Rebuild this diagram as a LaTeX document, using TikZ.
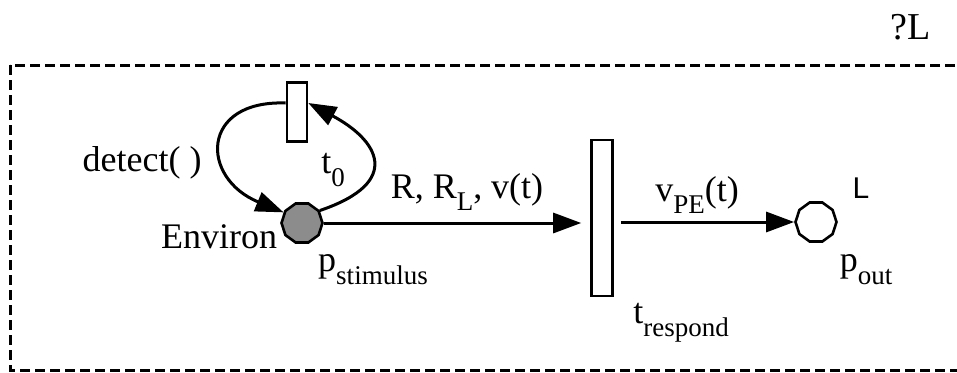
\documentclass[tikz,border=0pt]{standalone}
\usepackage{fontspec}
\setmainfont{Liberation Serif}
\newfontfamily\sanslabel{Liberation Sans}
\usetikzlibrary{arrows.meta,shapes.geometric}
\newcommand{\subtxt}[1]{\raisebox{-0.36em}{\fontsize{27}{29}\selectfont #1}}

\begin{document}
\begin{tikzpicture}[x=1pt,y=-1pt,
    font=\fontsize{36}{42}\selectfont,
    trans/.style={draw,line width=2.6pt,fill=white,inner sep=0pt},
    place/.style={draw,line width=2.6pt,regular polygon,regular polygon sides=10,
      inner sep=0pt,minimum size=41pt},
    arc/.style={line width=3pt,-{Triangle[length=28pt,width=20pt]}},
    frame/.style={line width=3pt,dash pattern=on 10pt off 5pt}]
      \clip (0,0) rectangle (957,372);

      % Enclosing box
      \draw[frame] (10,65) rectangle (980,370);

      % Transitions and places
      \node[trans,minimum width=20pt,minimum height=59pt] (t0) at (297,112) {};
      \node[place,fill=gray!90] (pstim) at (302,223) {};
      \node[trans,minimum width=21pt,minimum height=156pt] (tresp) at (602,218) {};
      \node[place,fill=white] (pout) at (816,222) {};

      % Arcs
      \draw[arc] ([yshift=9pt]t0.west) .. controls (200,100) and (200,178) .. (pstim.150);
      \draw[arc] (pstim.35) .. controls (404,182) and (378,140) .. ([yshift=9pt]t0.east);
      \draw[arc,shorten >=9pt] (pstim.east) -- (pstim.east -| tresp.west);
      \draw[arc,shorten <=7pt] (tresp.east |- pout.west) -- (pout.west);

      % Labels
      \node (detect) at (142,163) {detect( )};
      \node (t0lab) at (333,170) {t\subtxt{0}};
      \node (envlab) at (219,237) {Environ};
      \node (pstimlab) at (373,270) {p\subtxt{stimulus}};
      \node (rlab) at (467,192) {R, R\subtxt{L}, v(t)};
      \node (vlab) at (697,195) {v\subtxt{PE}(t)};
      \node[font=\sanslabel\fontsize{30}{32}\selectfont] (llab) at (861,188) {L};
      \node (poutlab) at (866,270) {p\subtxt{out}};
      \node (tresplab) at (681,323) {t\subtxt{respond}};
      \node[font=\fontsize{38}{42}\selectfont] (qlab) at (911,27) {?L};
\end{tikzpicture}
\end{document}
